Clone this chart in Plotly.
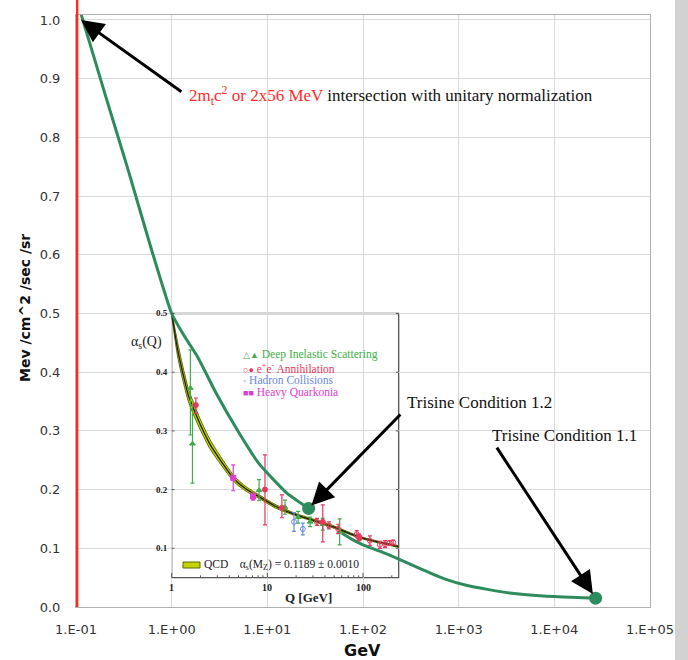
import math
import plotly.graph_objects as go

# ---------------- data ----------------
# main axis ticks
x_tickvals = [0.1, 1, 10, 100, 1000, 10000, 100000]
x_ticktext = ["1.E-01", "1.E+00", "1.E+01", "1.E+02", "1.E+03", "1.E+04", "1.E+05"]
y_tickvals = [0.0, 0.1, 0.2, 0.3, 0.4, 0.5, 0.6, 0.7, 0.8, 0.9, 1.0]

# threshold (red vertical line), GeV
threshold_gev = 0.1015

# upper green curve (from 2x56 MeV point to Trisine Condition 1.2)
curve_a_gev = [0.113, 0.2, 0.35, 0.6, 1.0, 1.35, 1.87, 2.9, 5.0, 8.1, 16, 27]
curve_a_val = [1.01, 0.875, 0.745, 0.615, 0.5, 0.462, 0.426, 0.365, 0.298, 0.245, 0.194, 0.168]

# lower green curve (towards Trisine Condition 1.1)
curve_b_gev = [60, 75, 100, 150, 240, 400, 710, 1200, 2000, 3400, 7000, 15000, 27000]
curve_b_val = [0.126, 0.116, 0.106, 0.095, 0.081, 0.065, 0.048, 0.037, 0.030, 0.024, 0.019, 0.0165, 0.015]

# Trisine condition points
trisine_gev = [27, 27000]
trisine_val = [0.168, 0.015]
trisine_labels = ["Trisine Condition 1.2", "Trisine Condition 1.1"]

# inset: QCD running coupling band
qcd_q = [1.0, 1.15, 1.3, 1.5, 1.75, 2.0, 2.5, 3.0, 4.5, 6.0, 8.6, 12, 20, 33, 50, 91.2, 150, 236]
qcd_alpha = [0.5, 0.44, 0.40, 0.36, 0.332, 0.31, 0.278, 0.258, 0.218, 0.201, 0.186, 0.172, 0.157,
             0.146, 0.136, 0.119, 0.110, 0.103]
qcd_err = [0.004, 0.012, 0.012, 0.011, 0.010, 0.009, 0.008, 0.007, 0.005, 0.004, 0.003, 0.003,
           0.002, 0.002, 0.002, 0.0015, 0.0015, 0.0015]

# inset measurements
dis_q = [1.57, 1.65, 8.2, 15.3, 21, 28, 38, 57]
dis_a = [0.373, 0.278, 0.199, 0.170, 0.153, 0.145, 0.141, 0.128]
dis_ep = [0.065, 0.067, 0.018, 0.012, 0.010, 0.008, 0.010, 0.022]
dis_em = [0.080, 0.067, 0.018, 0.012, 0.010, 0.008, 0.010, 0.022]

ee_q = [1.79, 9.45, 14.2, 38, 91, 91.5]
ee_a = [0.344, 0.200, 0.169, 0.145, 0.120, 0.117]
ee_ep = [0.012, 0.059, 0.022, 0.029, 0.004, 0.004]
ee_em = [0.014, 0.060, 0.017, 0.034, 0.004, 0.004]

ee_open_q = [33, 44, 55, 86, 118, 150, 170, 190, 207]
ee_open_a = [0.145, 0.139, 0.133, 0.124, 0.113, 0.106, 0.107, 0.109, 0.110]
ee_open_err = [0.006, 0.006, 0.008, 0.006, 0.008, 0.006, 0.006, 0.004, 0.004]

had_q = [19, 23.5]
had_a = [0.145, 0.133]
had_err = [0.016, 0.010]

hq_q = [4.4, 7.1]
hq_a = [0.220, 0.188]
hq_err = [0.022, 0.006]

inset_q_range = [1, 236]
inset_a_range = [0.05, 0.5]
inset_yticks = [0.1, 0.2, 0.3, 0.4, 0.5]
inset_xticks = [1, 10, 100]
inset_legend = [
    ("△▲", "Deep Inelastic Scattering", "#3fae48"),
    ("○●", "e<sup>+</sup>e<sup>-</sup> Annihilation", "#e8365d"),
    ("◦", "Hadron Collisions", "#6a8ae6"),
    ("■■", "Heavy Quarkonia", "#e03cd0"),
]

# ---------------- styles ----------------
GREEN = "#2e8b5e"
SERIF = "Liberation Serif, Times New Roman, serif"
SANS = "DejaVu Sans, Verdana, sans-serif"

fig = go.Figure()

# lower green curve (under inset content)
fig.add_trace(go.Scatter(x=curve_b_gev, y=curve_b_val, mode="lines",
                         line=dict(color=GREEN, width=3, shape="spline", smoothing=0.6), hoverinfo="skip"))

# QCD band
upper = [a + e for a, e in zip(qcd_alpha, qcd_err)]
lower = [a - e for a, e in zip(qcd_alpha, qcd_err)]
fig.add_trace(go.Scatter(x=qcd_q, y=upper, mode="lines",
                         line=dict(color="#5d6b00", width=1, shape="spline", smoothing=0.6), hoverinfo="skip"))
fig.add_trace(go.Scatter(x=qcd_q, y=lower, mode="lines", fill="tonexty", fillcolor="#c3d400",
                         line=dict(color="#5d6b00", width=1, shape="spline", smoothing=0.6), hoverinfo="skip"))
fig.add_trace(go.Scatter(x=qcd_q, y=qcd_alpha, mode="lines",
                         line=dict(color="#1a1a1a", width=1.3, shape="spline", smoothing=0.6), hoverinfo="skip"))

def err_trace(q, a, ep, em, color, symbol, size=5):
    return go.Scatter(x=q, y=a, mode="markers",
                      marker=dict(color=color, symbol=symbol, size=size, line=dict(color=color, width=1)),
                      error_y=dict(type="data", symmetric=False, array=ep, arrayminus=em,
                                   color=color, thickness=1.2, width=2),
                      hoverinfo="skip")

fig.add_trace(err_trace(dis_q, dis_a, dis_ep, dis_em, "#3fae48", "triangle-up"))
fig.add_trace(err_trace(ee_q, ee_a, ee_ep, ee_em, "#e8365d", "circle"))
fig.add_trace(err_trace(ee_open_q, ee_open_a, ee_open_err, ee_open_err, "#e8365d", "circle-open"))
fig.add_trace(err_trace(had_q, had_a, had_err, had_err, "#6a8ae6", "circle-open"))
fig.add_trace(err_trace(hq_q, hq_a, hq_err, hq_err, "#e03cd0", "square"))

# upper green curve
fig.add_trace(go.Scatter(x=curve_a_gev, y=curve_a_val, mode="lines",
                         line=dict(color=GREEN, width=3, shape="spline", smoothing=0.5), hoverinfo="skip"))
# trisine points
fig.add_trace(go.Scatter(x=trisine_gev, y=trisine_val, mode="markers",
                         marker=dict(color=GREEN, size=13), hoverinfo="skip"))

shapes = []
# red threshold line
shapes.append(dict(type="line", xref="x", yref="paper", x0=threshold_gev, x1=threshold_gev,
                   y0=0, y1=1.03, line=dict(color="#ff2a1a", width=3.5), layer="above"))
# inset frame
shapes.append(dict(type="rect", xref="x", yref="y", x0=inset_q_range[0], x1=inset_q_range[1],
                   y0=inset_a_range[0], y1=inset_a_range[1], line=dict(color="#555555", width=1.3),
                   layer="below"))
# inset tick marks
for t in inset_yticks:
    shapes.append(dict(type="line", xref="x", yref="y", x0=inset_q_range[0], x1=inset_q_range[0] * 1.07,
                       y0=t, y1=t, line=dict(color="#555555", width=1)))
    shapes.append(dict(type="line", xref="x", yref="y", x0=inset_q_range[1] / 1.07, x1=inset_q_range[1],
                       y0=t, y1=t, line=dict(color="#555555", width=1)))
for dec in [1, 10, 100]:
    for m in range(1, 10):
        q = dec * m
        if q > inset_q_range[1]:
            break
        h = 0.008 if m == 1 else 0.004
        shapes.append(dict(type="line", xref="x", yref="y", x0=q, x1=q,
                           y0=inset_a_range[0], y1=inset_a_range[0] + h, line=dict(color="#555555", width=1)))
# QCD legend swatch
shapes.append(dict(type="rect", xref="paper", yref="paper",
                   x0=(183 - 76) / 574, x1=(200 - 76) / 574, y0=(607 - 568) / 592, y1=(607 - 562) / 592,
                   fillcolor="#c3d400", line=dict(color="#5d6b00", width=1)))
# right grey strip
shapes.append(dict(type="rect", xref="paper", yref="paper", x0=(675 - 76) / 574, x1=(700 - 76) / 574,
                   y0=-0.2, y1=1.2, fillcolor="#d2d2d2", line=dict(width=0), layer="below"))

L = math.log10
ann = []
ARW = dict(showarrow=True, arrowhead=2, arrowsize=1.5, arrowwidth=3, arrowcolor="black",
           xref="x", yref="y", axref="x", ayref="y", text="")
# main annotation with arrow
ann.append(dict(x=L(curve_a_gev[0]), y=1.0, ax=L(1.31), ay=0.876, **ARW))
ann.append(dict(x=0.16, y=0.872, xref="x", yref="y", xanchor="left", yanchor="middle", showarrow=False,
                text='<span style="color:#ff2b2b">2m<sub>t</sub>c<sup>2</sup> or 2x56 MeV</span>'
                     ' intersection with unitary normalization',
                font=dict(family=SERIF, size=17, color="#111111")))
# trisine arrows and labels
ann.append(dict(x=L(trisine_gev[0]), y=trisine_val[0], ax=2.406, ay=0.3305, standoff=4, **ARW))
ann.append(dict(x=2.437, y=0.349, xref="x", yref="y", xanchor="left", yanchor="middle", showarrow=False,
                text=trisine_labels[0], font=dict(family=SERIF, size=17, color="#111111")))
ann.append(dict(x=L(trisine_gev[1]), y=trisine_val[1], ax=3.389, ay=0.274, standoff=5, **ARW))
ann.append(dict(x=3.326, y=0.293, xref="x", yref="y", xanchor="left", yanchor="middle", showarrow=False,
                text=trisine_labels[1], font=dict(family=SERIF, size=17, color="#111111")))

# inset tick labels
for t in inset_yticks:
    ann.append(dict(x=L(inset_q_range[0]), y=t, xref="x", yref="y", xanchor="right", yanchor="middle",
                    xshift=-2, showarrow=False, text=f"<b>{t:.1f}</b>",
                    font=dict(family=SERIF, size=9, color="#222222")))
for t in inset_xticks:
    ann.append(dict(x=L(t), y=inset_a_range[0], xref="x", yref="y", xanchor="center", yanchor="top",
                    yshift=-2, showarrow=False, text=f"<b>{t}</b>",
                    font=dict(family=SERIF, size=10, color="#222222")))
ann.append(dict(x=(308 - 76) / 574, y=(607 - 597) / 592, xref="paper", yref="paper", showarrow=False,
                xanchor="center", yanchor="middle",
                text="<b>Q [GeV]</b>", font=dict(family=SERIF, size=13, color="#222222")))
ann.append(dict(x=(146 - 76) / 574, y=(607 - 342) / 592, xref="paper", yref="paper", showarrow=False,
                xanchor="center", yanchor="middle",
                text="α<sub>s</sub>(Q)", font=dict(family=SERIF, size=14, color="#222222")))
# inset legend
for i, (sym, label, col) in enumerate(inset_legend):
    yy = [354, 368, 380, 392][i]
    ann.append(dict(x=(241 - 76) / 574, y=(607 - yy) / 592, xref="paper", yref="paper", xanchor="left",
                    yanchor="middle", showarrow=False,
                    text=f'<span style="font-size:9px">{sym}</span> {label}',
                    font=dict(family=SERIF, size=11.5, color=col)))
ann.append(dict(x=(202 - 76) / 574, y=(607 - 565) / 592, xref="paper", yref="paper", xanchor="left",
                yanchor="middle", showarrow=False,
                text="QCD&nbsp;&nbsp;&nbsp;&nbsp;α<sub>s</sub>(M<sub>Z</sub>) = 0.1189 ± 0.0010",
                font=dict(family=SERIF, size=11.5, color="#222222")))

# axis titles
ann.append(dict(x=(25 - 76) / 574, y=(607 - 308) / 592, xref="paper", yref="paper", showarrow=False,
                xanchor="center", yanchor="middle",
                text="<b>Mev /cm^2 /sec /sr</b>", textangle=-90,
                font=dict(family=SANS, size=14, color="#111111")))
ann.append(dict(x=(362 - 76) / 574, y=(607 - 650) / 592, xref="paper", yref="paper", showarrow=False,
                xanchor="center", yanchor="middle",
                text="<b>GeV</b>", font=dict(family=SANS, size=16, color="#111111")))

fig.update_layout(
    width=688, height=660,
    margin=dict(l=76, r=38, t=15, b=53),
    paper_bgcolor="white", plot_bgcolor="white",
    showlegend=False,
    shapes=shapes, annotations=ann,
    xaxis=dict(type="log", range=[-1, 5], tickvals=x_tickvals, ticktext=x_ticktext,
               showgrid=True, gridcolor="#dadada", gridwidth=1, zeroline=False,
               showline=True, linecolor="#b0b0b0", linewidth=1, mirror=True,
               ticks="", ticklabelstandoff=10,
               tickfont=dict(family=SANS, size=13, color="#333333")),
    yaxis=dict(range=[0, 1.0085], tickvals=y_tickvals, tickformat=".1f",
               showgrid=True, gridcolor="#dadada", gridwidth=1, zeroline=False,
               showline=True, linecolor="#b0b0b0", linewidth=1, mirror=True,
               ticks="", ticklabelstandoff=12,
               tickfont=dict(family=SANS, size=13, color="#333333")),
)

fig.write_html("out.html", config={"displayModeBar": False},
               post_script="document.body.style.margin='0';")
